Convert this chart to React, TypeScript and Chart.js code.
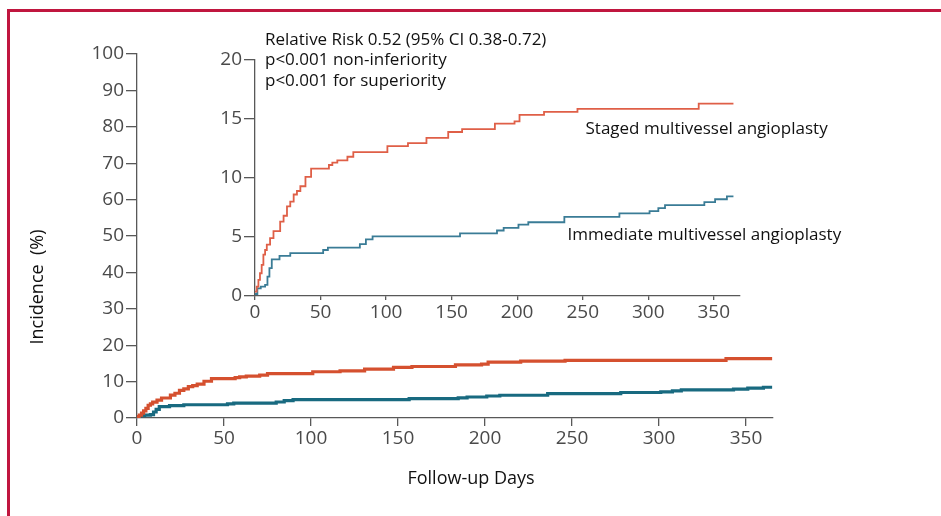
import React, { useEffect, useRef } from "react";
import { Chart, registerables } from "chart.js";

Chart.register(...registerables);

// ---------- data ----------
const xTicks = [0, 50, 100, 150, 200, 250, 300, 350];
const mainYTicks = [0, 10, 20, 30, 40, 50, 60, 70, 80, 90, 100];
const insetYTicks = [0, 5, 10, 15, 20];

const stagedDays = [0, 1.3, 2.6, 3.8, 5.1, 6.4, 7.7, 9, 11.5, 14.1, 19.2, 21.8, 24.4, 26.9, 29.5, 32, 34.6, 38.5, 42.8, 56.4, 59, 62.8, 70.5, 75, 101, 116.7, 130.8, 147.4, 158, 183, 198, 201.8, 220.5, 246, 338.5, 365];
const stagedValues = [0.37, 0.8, 1.36, 1.93, 2.64, 3.5, 3.9, 4.35, 4.9, 5.5, 6.3, 6.8, 7.6, 8.0, 8.6, 8.9, 9.3, 10.1, 10.8, 11.1, 11.3, 11.5, 11.8, 12.2, 12.7, 12.95, 13.4, 13.9, 14.15, 14.6, 14.8, 15.35, 15.6, 15.85, 16.3, 16.3];

const immediateDays = [0, 1.8, 4.4, 7.7, 9.5, 11, 12.8, 18.7, 26.9, 52, 55.6, 80, 84.6, 89.7, 156.4, 184.6, 189.7, 201, 208.5, 236, 278, 301, 307.7, 312.8, 342.8, 351, 360, 365];
const immediateValues = [0.17, 0.65, 0.8, 0.94, 1.65, 2.36, 3.1, 3.4, 3.64, 3.9, 4.1, 4.4, 4.8, 5.05, 5.3, 5.55, 5.77, 6.05, 6.25, 6.7, 7.0, 7.2, 7.45, 7.7, 7.95, 8.2, 8.45, 8.45];

const seriesLabels = ["Staged multivessel angioplasty", "Immediate multivessel angioplasty"];
const statLines = [
  "Relative Risk 0.52 (95% CI 0.38-0.72)",
  "p<0.001 non-inferiority",
  "p<0.001 for superiority",
];
const xTitle = "Follow-up Days";
const yTitle = "Incidence  (%)";

// ---------- styles ----------
const FONT = "'Open Sans', 'DejaVu Sans', sans-serif";
const AXIS = "#585858";
const TICK_TEXT = "#4a4a4a";

const toPoints = (xs: number[], ys: number[]) => xs.map((x, i) => ({ x, y: ys[i] }));

function axisCommon(tickLength: number, padding: number) {
  return {
    grid: { drawOnChartArea: false, drawTicks: true, tickLength, color: AXIS, lineWidth: 1.3 },
    border: { display: true, color: AXIS, width: 1.3 },
    ticks: {
      font: { family: FONT, size: 19 },
      color: TICK_TEXT,
      padding,
      maxRotation: 0,
      autoSkip: false,
    },
  };
}

const mainTextPlugin = {
  id: "mainText",
  afterDraw(chart: any) {
    const ctx = chart.ctx as CanvasRenderingContext2D;
    ctx.save();
    ctx.fillStyle = "#111";
    ctx.font = `18px ${FONT}`;
    ctx.textAlign = "center";
    ctx.textBaseline = "middle";
    ctx.fillText(xTitle, 471, 479);
    ctx.translate(38, 287);
    ctx.rotate(-Math.PI / 2);
    ctx.fillText(yTitle, 0, 0);
    ctx.restore();
  },
};

const INSET_LEFT = 180;
const INSET_TOP = 20;

const insetTextPlugin = {
  id: "insetText",
  afterDraw(chart: any) {
    const ctx = chart.ctx as CanvasRenderingContext2D;
    ctx.save();
    ctx.fillStyle = "#111";
    ctx.font = `17px ${FONT}`;
    ctx.textAlign = "left";
    ctx.textBaseline = "alphabetic";
    const ox = INSET_LEFT, oy = INSET_TOP;
    statLines.forEach((t, i) => ctx.fillText(t, 265 - ox, 44.5 + i * 20.8 - oy));
    ctx.fillText(seriesLabels[0], 585.5 - ox, 133.5 - oy);
    ctx.fillText(seriesLabels[1], 567.5 - ox, 239.5 - oy);
    ctx.restore();
  },
};

export default function App() {
  const mainRef = useRef<HTMLCanvasElement>(null);
  const insetRef = useRef<HTMLCanvasElement>(null);

  useEffect(() => {
    const mainChart = new Chart(mainRef.current!, {
      type: "line",
      data: {
        datasets: [
          {
            label: seriesLabels[0],
            data: toPoints(stagedDays, stagedValues),
            borderColor: "#d5502f",
            borderWidth: 3.2,
            stepped: true,
            pointRadius: 0,
            fill: false,
          },
          {
            label: seriesLabels[1],
            data: toPoints(immediateDays, immediateValues),
            borderColor: "#186a80",
            borderWidth: 3.2,
            stepped: true,
            pointRadius: 0,
            fill: false,
          },
        ],
      },
      options: {
        animation: false,
        responsive: false,
        maintainAspectRatio: false,
        layout: { padding: { left: 0, top: 54, right: 941 - 773, bottom: 0 } },
        plugins: { legend: { display: false }, tooltip: { enabled: false } },
        scales: {
          x: {
            type: "linear",
            min: 0,
            max: 365.5,
            afterFit: (s: any) => { s.height = 98; },
            afterBuildTicks: (s: any) => { s.ticks = xTicks.map((v) => ({ value: v })); },
            ...axisCommon(8, 1),
          },
          y: {
            type: "linear",
            min: 0,
            max: 100,
            afterFit: (s: any) => { s.width = 137; },
            afterBuildTicks: (s: any) => { s.ticks = mainYTicks.map((v) => ({ value: v })); },
            ...axisCommon(11, 2),
          },
        },
      } as any,
      plugins: [mainTextPlugin],
    });

    const insetChart = new Chart(insetRef.current!, {
      type: "line",
      data: {
        datasets: [
          {
            label: seriesLabels[0],
            data: toPoints(stagedDays, stagedValues),
            borderColor: "#df5f47",
            borderWidth: 1.8,
            stepped: true,
            pointRadius: 0,
            fill: false,
          },
          {
            label: seriesLabels[1],
            data: toPoints(immediateDays, immediateValues),
            borderColor: "#3a7c96",
            borderWidth: 1.8,
            stepped: true,
            pointRadius: 0,
            fill: false,
          },
        ],
      },
      options: {
        animation: false,
        responsive: false,
        maintainAspectRatio: false,
        layout: { padding: { left: 0, top: 40, right: 720 - 560, bottom: 0 } },
        plugins: { legend: { display: false }, tooltip: { enabled: false } },
        scales: {
          x: {
            type: "linear",
            min: 0,
            max: 370,
            afterFit: (s: any) => { s.height = 44; },
            afterBuildTicks: (s: any) => { s.ticks = xTicks.map((v) => ({ value: v })); },
            ...axisCommon(4, 1),
          },
          y: {
            type: "linear",
            min: 0,
            max: 20,
            afterFit: (s: any) => { s.width = 75; },
            afterBuildTicks: (s: any) => { s.ticks = insetYTicks.map((v) => ({ value: v })); },
            ...axisCommon(11, 2),
          },
        },
      } as any,
      plugins: [insetTextPlugin],
    });

    return () => {
      mainChart.destroy();
      insetChart.destroy();
    };
  }, []);

  return (
    <div style={{ position: "absolute", left: 0, top: 0, width: 941, height: 516, background: "#fff", overflow: "hidden" }}>
      <div
        style={{
          position: "absolute",
          left: 7,
          top: 9,
          width: 941 - 7,
          height: 516 - 9,
          boxSizing: "border-box",
          borderTop: "3px solid #c0163f",
          borderLeft: "3px solid #c0163f",
        }}
      />
      <canvas ref={mainRef} width={941} height={516} style={{ position: "absolute", left: 0, top: 0 }} />
      <canvas ref={insetRef} width={720} height={320} style={{ position: "absolute", left: INSET_LEFT, top: INSET_TOP }} />
    </div>
  );
}
